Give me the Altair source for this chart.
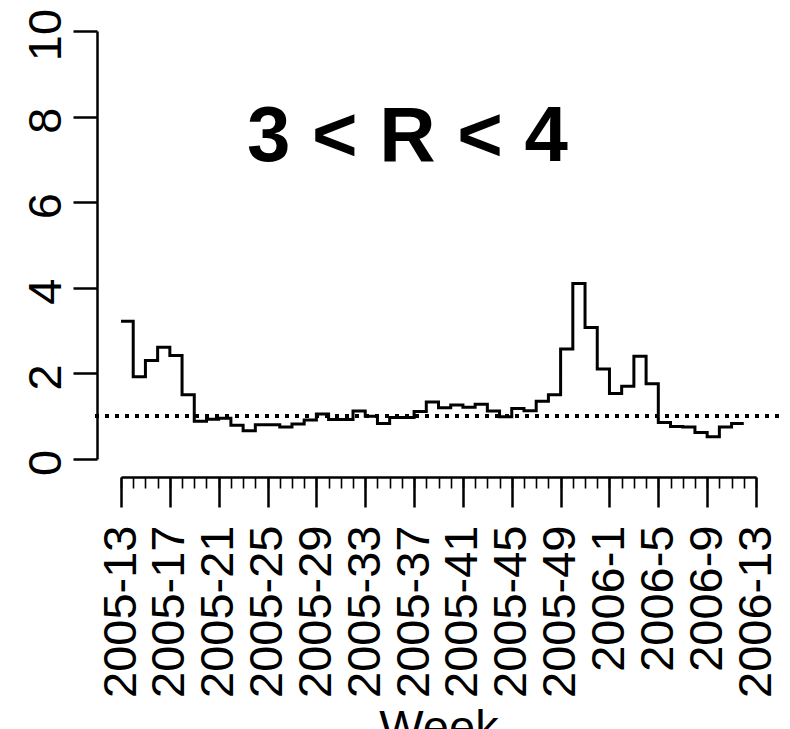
import json
import altair as alt
import pandas as pd

# ---- data ----
weeks = [f"2005-{w}" for w in range(13, 53)] + [f"2006-{w}" for w in range(1, 14)]
ratio = [3.22, 1.92, 2.30, 2.61, 2.42, 1.50, 0.88, 0.93, 0.95, 0.79,
         0.66, 0.80, 0.80, 0.75, 0.82, 0.91, 1.05, 0.92, 0.92, 1.12,
         1.00, 0.83, 0.97, 0.97, 1.11, 1.33, 1.20, 1.26, 1.21, 1.28,
         1.12, 0.99, 1.18, 1.13, 1.35, 1.50, 2.57, 4.10, 3.07, 2.10,
         1.53, 1.70, 2.40, 1.76, 0.85, 0.76, 0.75, 0.62, 0.52, 0.75,
         0.83, 0.83]
y_ticks = [0, 2, 4, 6, 8, 10]
label_every = 4
reference_level = 1
panel_title = "3 < R < 4"
x_title = "Week"

FONT = "Liberation Sans"
n = len(weeks)
df = pd.DataFrame({"idx": list(range(len(ratio))), "week": weeks[:len(ratio)], "ratio": ratio})

# R-style 4% expansion of the x range (for the reference line extent)
ext = (n - 1) * 0.04

x_scale = alt.Scale(domain=[0, n - 1], nice=False, zero=False)
y_scale = alt.Scale(domain=[y_ticks[0], y_ticks[-1]], nice=False, zero=False)

label_expr = f"{json.dumps(weeks)}[datum.value]"

x_axis_major = alt.Axis(
    orient="bottom",
    values=list(range(0, n, label_every)),
    labelExpr=label_expr,
    labelAngle=270, labelAlign="right", labelBaseline="middle",
    labelPadding=18, labelFontSize=47, labelFont=FONT, labelColor="black",
    labelOverlap=False, labelFlush=False,
    tickSize=30, tickWidth=2.5, tickColor="black",
    offset=18, domainWidth=2.5, domainColor="black",
    title=x_title, titleFontSize=47, titleFont=FONT, titleFontWeight="normal",
    titleColor="black", titlePadding=28,
    grid=False,
)

x_axis_minor = alt.Axis(
    orient="bottom",
    values=list(range(n)),
    labels=False, domain=False, title=None, grid=False,
    tickSize=11, tickWidth=1.6, tickColor="black",
    offset=18,
)

y_axis = alt.Axis(
    values=y_ticks, offset=24,
    tickSize=24, tickWidth=2.5, tickColor="black",
    domainWidth=2.5, domainColor="black",
    labelAngle=270, labelAlign="center", labelBaseline="alphabetic",
    labelPadding=13, labelFontSize=47, labelFont=FONT, labelColor="black",
    labelOffset=3.5, labelFlush=False, title=None, grid=False,
)

minor = alt.Chart(df).mark_line(opacity=0).encode(
    x=alt.X("idx:Q", scale=x_scale, axis=x_axis_minor),
    y=alt.Y("ratio:Q", scale=y_scale, axis=y_axis),
)

ref = alt.Chart(df).mark_rule(
    color="black", strokeWidth=3, strokeDash=[3, 7]
).encode(
    x=alt.XDatum(-ext, axis=None),
    x2=alt.X2Datum(n - 1 + ext),
    y=alt.datum(reference_level),
)

line = alt.Chart(df).mark_line(
    interpolate="step-after", color="black", strokeWidth=3
).encode(
    x=alt.X("idx:Q", scale=x_scale, axis=x_axis_major),
    y=alt.Y("ratio:Q", scale=y_scale, axis=y_axis),
)

chart = alt.layer(minor, ref, line).resolve_axis(x="independent").properties(
    width=635, height=428,
    title=alt.TitleParams(
        panel_title, fontSize=78, fontWeight="bold", font=FONT, color="black",
        anchor="middle", frame="group", dx=-31, offset=-231, baseline="alphabetic",
    ),
    autosize=alt.AutoSizeParams(type="none"),
    padding={"left": 113, "top": 23, "right": 26, "bottom": 290},
    background="white",
).configure_view(strokeWidth=0)

chart.save("out.html", embed_options={"renderer": "svg", "actions": False})
